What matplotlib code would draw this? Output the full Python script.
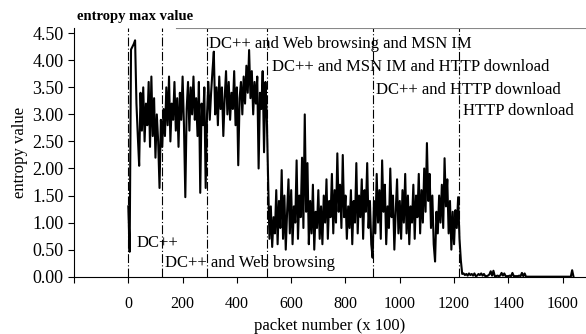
import numpy as np
import matplotlib.pyplot as plt

plt.rcParams['font.family'] = ['Liberation Serif', 'DejaVu Serif']

# entropy samples, one every 5 packets (x 100)
step = 5
dc_only = [1.30, 0.46, 4.20, 4.25, 4.30, 4.37, 3.20, 2.60, 2.05, 3.40, 2.70, 3.50, 2.50,
           3.20, 2.80, 3.60, 2.40, 3.70, 2.60, 3.30, 2.20, 3.00, 2.50, 1.64, 2.90, 2.40]
dc_web = [3.10, 2.60, 3.50, 2.80, 3.70, 2.50, 3.20, 2.90, 3.60, 2.70, 3.30, 2.40, 3.40,
          2.90, 3.70, 2.80, 1.47, 3.10, 3.60, 2.70, 3.50, 3.00, 3.70, 2.90, 3.30, 2.60,
          3.60, 1.55, 3.20, 2.80, 3.50, 1.64]
dc_web_msn = [3.00, 3.60, 2.90, 3.40, 3.80, 4.16, 3.00, 3.50, 2.80, 3.70, 3.10, 3.50,
              2.60, 3.30, 3.80, 3.00, 3.60, 2.90, 3.40, 3.10, 3.80, 2.80, 3.50, 2.06,
              3.30, 3.60, 3.00, 3.70, 3.20, 3.90, 3.40, 4.19, 3.30, 3.80, 3.00, 3.60,
              3.20, 3.70, 2.00, 3.40, 3.10, 3.80, 2.30, 3.60]
dc_msn_http = [3.00, 1.80, 0.70, 1.30, 0.55, 1.10, 0.80, 1.60, 0.60, 1.40, 0.90, 1.97,
               0.70, 1.50, 0.50, 1.20, 1.80, 0.80, 1.60, 0.60, 1.30, 1.00, 2.15, 0.70,
               1.50, 1.10, 2.20, 0.90, 3.00, 1.20, 2.10, 0.60, 1.40, 0.80, 1.70, 0.50,
               1.20, 0.90, 1.60, 0.70, 1.30, 0.60, 1.50, 1.00, 1.80, 0.70, 1.40, 1.10,
               1.90, 0.80, 1.60, 1.00, 2.28, 1.20, 1.70, 0.90, 2.25, 1.10, 1.50, 0.70,
               1.30, 0.90, 1.60, 0.60, 1.40, 1.00, 2.10, 0.80, 1.50, 1.10, 1.80, 0.70,
               1.60, 1.20, 2.10, 0.90, 1.40, 0.60, 0.35]
dc_http = [1.40, 0.80, 1.90, 1.00, 1.60, 0.70, 2.15, 1.20, 1.70, 0.60, 1.30, 0.90,
           2.00, 1.10, 1.50, 0.50, 1.20, 1.80, 0.80, 1.40, 0.70, 1.60, 1.00, 1.90,
           0.80, 1.50, 0.60, 1.30, 1.00, 1.70, 0.70, 1.50, 1.10, 1.90, 0.80, 1.60,
           1.00, 2.00, 1.20, 2.47, 1.40, 1.90, 0.90, 1.50, 0.60, 0.28, 1.20, 0.80,
           1.50, 1.00, 1.70, 0.90, 2.19, 1.30, 1.80, 0.80, 1.40, 0.50, 1.20, 0.60,
           1.23, 0.90, 1.47, 0.70, 0.30, 0.05]
http_only = [0.06, 0.03, 0.05, 0.02, 0.06, 0.03, 0.05, 0.02, 0.06, 0.01, 0.02, 0.05,
             0.03, 0.06, 0.02, 0.05, 0.01, 0.01, 0.02, 0.04, 0.10, 0.02, 0.11, 0.01,
             0.01, 0.02, 0.01, 0.02, 0.07, 0.02, 0.06, 0.01, 0.01, 0.01, 0.02, 0.01,
             0.07, 0.01, 0.01, 0.01, 0.01, 0.02, 0.01, 0.07, 0.01, 0.06] + [0.0] * 34 + [0.12, 0.0]

entropy = np.array(dc_only + dc_web + dc_web_msn + dc_msn_http + dc_http + http_only)
packets = np.arange(len(entropy)) * step

# phase boundaries and labels
phase_starts = [0, 123, 289, 512, 900, 1218]
phase_labels = ['DC++', 'DC++ and Web browsing', 'DC++ and Web browsing and MSN IM',
                'DC++ and MSN IM and HTTP download', 'DC++ and HTTP download', 'HTTP download']
label_x = [29, 135, 298, 530, 912, 1233]
label_y = [0.62, 0.25, 4.30, 3.88, 3.45, 3.06]

fig = plt.figure(figsize=(5.86, 3.34), dpi=100)
ax = fig.add_axes([0.1263, 0.1716, 0.8737, 0.745])

ax.plot(packets, entropy, color='black', lw=1.5)

for xs in phase_starts:
    ax.plot([xs, xs], [0, 4.6], color='black', lw=0.8, linestyle=(0, (8, 2, 1, 2)))

for lab, lx, ly in zip(phase_labels, label_x, label_y):
    ax.text(lx, ly, lab, fontsize=12, va='center', ha='left')

ax.set_xlim(-200, 1686)
ax.set_ylim(0, 4.6)
ax.set_xticks(np.arange(-200, 1601, 200))
ax.set_xticklabels([''] + [str(v) for v in range(0, 1601, 200)])
ax.set_yticks(np.arange(0, 4.51, 0.5))
ax.set_yticklabels(['%.2f' % v for v in np.arange(0, 4.51, 0.5)])
ax.tick_params(direction='out', length=4, width=0.8)
ax.tick_params(axis='x', labelsize=11.5, pad=10)
ax.tick_params(axis='y', labelsize=13)

ax.spines['right'].set_visible(False)
ax.spines['top'].set_visible(False)
ax.axhline(4.6, xmin=0.2, xmax=1.0, color='#888888', lw=0.8)

ax.set_xlabel('packet number (x 100)', fontsize=12, labelpad=4)
ax.set_ylabel('entropy value', fontsize=12, labelpad=3)
fig.text(0.131, 0.95, 'entropy max value', fontsize=10.5, fontweight='bold', ha='left', va='center')

fig.savefig('out.png', dpi=100)
